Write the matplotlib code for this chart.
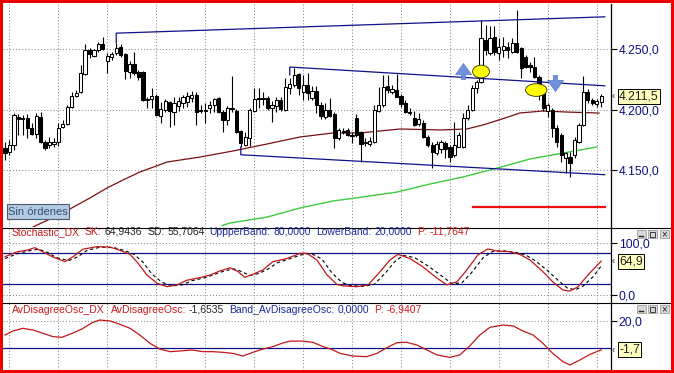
import numpy as np
import matplotlib
matplotlib.use("Agg")
import matplotlib.pyplot as plt
from matplotlib.patches import Ellipse, Rectangle
from matplotlib.path import Path
from matplotlib.lines import Line2D

plt.rcParams['font.family'] = ['Liberation Sans', 'DejaVu Sans']

# ---------------- datos (velas) ----------------
opens = [4168.5, 4165.5, 4171.0, 4194.0, 4193.5, 4193.5, 4185.0, 4180.0, 4194.0, 4173.5,
         4171.0, 4172.0, 4173.5, 4186.0, 4188.5, 4202.5, 4211.5, 4215.0, 4229.5, 4249.5,
         4244.5, 4249.5, 4254.5, 4240.5, 4244.0, 4247.0, 4252.0, 4246.5, 4231.5, 4238.0,
         4231.5, 4231.5, 4209.0, 4209.0, 4211.5, 4195.0, 4200.0, 4206.5, 4198.5, 4203.5,
         4206.0, 4206.5, 4210.0, 4212.5, 4200.0, 4200.0, 4201.5, 4204.0, 4210.0, 4198.5,
         4192.0, 4201.5, 4199.0, 4182.5, 4171.0, 4177.0, 4199.0, 4210.0, 4210.0, 4210.0,
         4201.5, 4203.5, 4208.5, 4200.0, 4218.0, 4220.5, 4229.5, 4215.0, 4220.5, 4210.0,
         4215.5, 4204.0, 4194.0, 4200.0, 4196.5, 4177.0, 4182.5, 4183.5, 4179.5, 4193.5,
         4182.0, 4173.5, 4172.0, 4173.5, 4199.0, 4204.0, 4220.0, 4215.0, 4216.5, 4211.5,
         4206.0, 4198.5, 4193.5, 4188.5, 4189.5, 4177.5, 4171.0, 4164.5, 4167.5, 4172.5,
         4169.5, 4163.0, 4169.5, 4169.5, 4193.5, 4200.0, 4218.0, 4223.0, 4258.0, 4247.0,
         4260.5, 4247.0, 4249.5, 4252.0, 4248.0, 4255.5, 4251.0, 4244.0, 4237.0, 4235.5,
         4227.5, 4214.0, 4199.0, 4200.0, 4185.0, 4179.5, 4160.5, 4161.0, 4163.0, 4173.5,
         4187.5, 4215.0, 4208.5, 4205.0, 4206.5]
highs = [4173.5, 4175.0, 4197.5, 4196.5, 4196.0, 4196.5, 4189.5, 4197.5, 4198.5, 4175.0,
         4177.5, 4177.0, 4189.5, 4192.0, 4204.0, 4215.0, 4216.5, 4237.0, 4254.5, 4251.0,
         4250.5, 4256.0, 4260.5, 4247.0, 4248.0, 4255.5, 4254.5, 4247.0, 4240.5, 4248.0,
         4233.0, 4232.0, 4211.0, 4218.0, 4213.0, 4206.5, 4209.0, 4207.5, 4211.0, 4211.0,
         4212.5, 4215.0, 4215.5, 4215.0, 4204.0, 4206.0, 4207.5, 4210.0, 4211.0, 4200.0,
         4203.5, 4228.0, 4201.0, 4183.5, 4182.0, 4201.5, 4218.0, 4218.0, 4215.0, 4211.5,
         4207.5, 4211.0, 4211.0, 4226.5, 4226.5, 4234.5, 4230.5, 4229.0, 4230.5, 4220.0,
         4220.0, 4206.5, 4206.0, 4210.0, 4198.5, 4185.0, 4185.0, 4185.0, 4182.0, 4196.5,
         4182.5, 4177.0, 4177.5, 4204.0, 4219.0, 4229.0, 4229.0, 4220.5, 4229.5, 4213.0,
         4208.5, 4201.5, 4199.0, 4197.5, 4192.0, 4179.5, 4173.5, 4174.5, 4175.0, 4174.5,
         4171.0, 4190.0, 4182.0, 4197.5, 4204.0, 4220.5, 4225.0, 4274.5, 4270.0, 4269.5,
         4269.5, 4259.5, 4260.5, 4256.0, 4259.5, 4282.5, 4252.0, 4245.5, 4239.5, 4244.0,
         4229.0, 4215.0, 4206.0, 4201.5, 4187.5, 4181.0, 4165.5, 4165.5, 4177.5, 4189.5,
         4228.0, 4217.5, 4210.0, 4209.0, 4213.0]
lows = [4158.5, 4163.0, 4167.0, 4179.5, 4179.5, 4177.0, 4179.5, 4177.0, 4172.5, 4167.0,
        4168.5, 4169.5, 4170.0, 4185.0, 4187.5, 4201.5, 4211.0, 4214.0, 4229.0, 4243.0,
        4244.0, 4248.0, 4249.5, 4230.5, 4241.5, 4245.5, 4244.0, 4225.5, 4226.5, 4229.0,
        4225.0, 4207.5, 4201.5, 4201.5, 4195.0, 4189.5, 4198.5, 4186.0, 4187.5, 4199.0,
        4201.5, 4202.5, 4206.5, 4187.5, 4197.5, 4189.5, 4197.5, 4198.5, 4197.5, 4182.0,
        4187.5, 4198.5, 4181.0, 4169.5, 4170.0, 4170.0, 4198.5, 4201.5, 4204.0, 4200.0,
        4190.0, 4198.5, 4199.0, 4199.0, 4213.0, 4219.0, 4212.5, 4208.5, 4208.5, 4208.5,
        4197.5, 4192.5, 4192.5, 4194.0, 4168.5, 4175.0, 4180.0, 4178.5, 4172.5, 4177.5,
        4157.0, 4170.0, 4170.0, 4172.5, 4198.5, 4202.5, 4214.0, 4213.0, 4211.0, 4202.5,
        4197.5, 4196.0, 4187.0, 4187.0, 4177.0, 4169.5, 4152.0, 4163.0, 4164.5, 4160.5,
        4157.0, 4161.0, 4169.5, 4168.5, 4192.0, 4199.0, 4214.0, 4222.5, 4245.5, 4245.5,
        4245.5, 4241.5, 4244.0, 4243.0, 4247.0, 4247.0, 4226.5, 4234.5, 4231.5, 4226.5,
        4208.5, 4199.0, 4194.0, 4177.5, 4169.5, 4157.0, 4148.0, 4144.5, 4160.5, 4172.5,
        4187.0, 4206.0, 4204.0, 4202.5, 4202.5]
closes = [4164.5, 4171.0, 4196.0, 4192.5, 4192.5, 4185.0, 4180.0, 4195.0, 4173.5, 4168.5,
          4173.5, 4173.5, 4185.0, 4188.5, 4202.5, 4211.5, 4214.0, 4230.5, 4249.5, 4246.5,
          4249.5, 4254.5, 4250.5, 4244.5, 4246.5, 4251.0, 4245.5, 4232.0, 4238.0, 4230.5,
          4227.5, 4208.5, 4208.5, 4211.5, 4196.0, 4201.0, 4207.5, 4199.0, 4206.0, 4207.5,
          4211.0, 4211.5, 4212.5, 4198.5, 4199.0, 4199.0, 4204.0, 4209.0, 4198.5, 4192.0,
          4201.5, 4201.0, 4182.0, 4172.5, 4177.5, 4200.0, 4209.0, 4209.0, 4209.0, 4201.5,
          4204.0, 4208.5, 4201.0, 4219.0, 4221.5, 4229.0, 4218.0, 4220.5, 4214.0, 4215.5,
          4204.0, 4195.0, 4200.0, 4195.0, 4177.0, 4183.5, 4182.0, 4179.5, 4178.5, 4179.5,
          4172.0, 4172.5, 4174.5, 4200.0, 4204.0, 4219.0, 4216.5, 4217.5, 4211.0, 4205.0,
          4198.5, 4197.5, 4187.5, 4192.5, 4177.5, 4171.0, 4165.5, 4172.0, 4173.5, 4167.5,
          4161.0, 4171.0, 4179.5, 4193.5, 4200.0, 4218.0, 4223.0, 4259.5, 4249.5, 4259.5,
          4248.0, 4252.0, 4253.0, 4249.5, 4255.5, 4248.0, 4234.5, 4235.5, 4235.5, 4227.5,
          4212.5, 4201.5, 4204.0, 4185.0, 4173.5, 4163.0, 4164.5, 4156.0, 4175.0, 4187.5,
          4215.0, 4208.5, 4206.0, 4207.5, 4211.5]

# medias moviles (barra, precio)
ma_brown_bars = [5.6, 6.3, 10.1, 14.6, 19.1, 22.9, 27.0, 30.3, 36.4, 43.8, 51.2, 58.9,
                 66.3, 73.7, 79.8, 88.8, 97.8, 103.8, 107.4, 112.4, 115.7, 120.9, 126.3, 133.5]
ma_brown_vals = [4101.6, 4103.3, 4109.9, 4118.2, 4127.3, 4135.5, 4143.0, 4148.7, 4157.0,
                 4161.1, 4166.1, 4171.9, 4177.7, 4181.0, 4181.0, 4184.3, 4183.5, 4184.3,
                 4187.6, 4193.4, 4197.5, 4199.2, 4198.3, 4197.5]
ma_green_bars = [48.8, 50.6, 58.9, 66.3, 73.7, 80.4, 88.1, 95.5, 102.9, 110.6, 118.0, 125.4, 133.0]
ma_green_vals = [4104.5, 4106.6, 4111.5, 4119.0, 4124.8, 4128.1, 4132.2, 4138.8, 4144.6,
                 4152.0, 4159.5, 4164.4, 4169.4]

# canales (barra, precio)
chan_top_bars = [25, 25, 134.8]
chan_top_vals = [4255.5, 4263.5, 4277.0]
chan_mid_up_bars = [64, 64, 134.8]
chan_mid_up_vals = [4229.0, 4235.5, 4220.0]
chan_mid_lo_bars = [53, 53, 134.8]
chan_mid_lo_vals = [4169.5, 4163.0, 4146.5]
target_bars = [105.2, 134.8]
target_vals = [4120.0, 4120.0]

# senales
buy_arrow = (102.9, 4232.6)
sell_arrow = (123.7, 4221.9)
entry_bars = [107.0, 119.4]
entry_vals = [4231.8, 4216.5]

# Stochastic_DX
sk_bars = [0, 2.7, 4.9, 6.7, 8.5, 10.6, 13.5, 15.3, 17.5, 20.7, 23.6, 25.8, 28.1, 29.9,
           31.9, 34.2, 36.4, 38.7, 40.9, 43.8, 46.1, 48.3, 50.6, 52.4, 53.9, 55.7, 58.0,
           60.2, 63.4, 66.3, 67.9, 70.1, 72.4, 74.6, 76.0, 79.1, 81.6, 84.3, 86.5, 88.3,
           91.0, 93.9, 97.1, 99.3, 101.6, 103.8, 106.3, 108.5, 110.6, 113.5, 115.7, 118.0,
           120.9, 123.1, 125.4, 127.0, 128.8, 131.0, 134.0]
sk_vals = [73.5, 83, 86, 91, 83, 73.5, 64, 73.5, 88, 93, 92, 86, 78, 61, 38, 22, 15.5, 19,
           28, 33, 38, 46, 52, 44.5, 33.6, 39.5, 48, 64, 70, 80, 80, 67, 38, 20, 17, 15.5,
           19, 44.5, 67, 78, 70, 54, 32, 19, 25, 48, 77, 88.5, 84.5, 83, 78, 67, 44.5, 25,
           9, 7, 15.5, 38, 64.9436]
sd_bars = [0, 3, 5.5, 7.5, 9.5, 11.5, 14.3, 16.3, 18.5, 21.5, 24.5, 27, 29, 31, 33, 35.3,
           37.5, 39.8, 42, 45, 47, 49.3, 51.5, 53.4, 55, 57, 59, 61.3, 64.5, 67.3, 69, 71.2,
           73.5, 75.7, 77.5, 80.5, 83, 85.5, 87.6, 89.5, 92, 95, 98.2, 100.5, 102.7, 105,
           107.5, 109.7, 112, 114.7, 117, 119.3, 122, 124.3, 126.5, 128.3, 130, 132.3, 134]
sd_vals = [70, 80, 85, 88, 82, 72, 66, 73, 86, 92, 91, 85, 78, 63, 40, 24, 17, 19, 27, 33,
           39, 46, 50, 44, 37, 41, 49, 62, 71, 79, 79, 69, 42, 24, 18, 16, 20, 42, 64, 76,
           72, 56, 36, 21, 23, 44, 72, 84, 85, 82, 77, 65, 46, 28, 12, 10, 17, 36, 55.7064]
stoch_bands = [80, 20]

# AvDisagreeOsc_DX
osc_bars = [0, 1.8, 4.0, 6.3, 8.5, 10.8, 12.8, 15.1, 17.3, 19.6, 21.3, 23.6, 25.8, 28.1,
            30.3, 32.6, 34.8, 37.1, 39.3, 42.0, 44.5, 46.7, 49.0, 51.2, 53.5, 55.7, 58.0,
            60.2, 62.2, 64.0, 67.0, 69.2, 71.5, 73.7, 75.3, 78.2, 81.3, 83.6, 85.8, 88.1,
            90.3, 92.6, 94.8, 97.1, 100.0, 102.2, 104.5, 106.7, 109.0, 111.9, 114.2, 116.4,
            118.7, 120.9, 123.1, 125.4, 127.0, 129.2, 131.5, 134.0]
osc_vals = [9.6, 12.7, 14.7, 13.4, 10.9, 8.4, 7.9, 10.9, 14.2, 19.0, 21.0, 20.3, 17.8,
            14.7, 9.6, 3.3, -1.0, -3.0, -2.5, -1.7, -3.0, -3.0, -3.5, -4.3, -6.3, -3.5,
            -1.0, 0.8, 3.3, 5.0, 5.0, 4.1, 0.8, -1.7, -4.3, -6.3, -6.8, -4.3, 0.0, 3.8, 4.1,
            2.0, -1.7, -5.5, -7.3, -5.5, 1.5, 9.6, 15.5, 17.2, 16.5, 12.7, 9.6, 3.3, -4.3,
            -10.6, -13.1, -9.3, -5.0, -1.6535]
osc_band = 0.0

grid_bars = np.arange(1, 136, 11)

# ---------------- figura ----------------
W, H = 674, 373
fig = plt.figure(figsize=(W / 100, H / 100), dpi=100, facecolor='white')


def box(x0, y0, x1, y1):
    return [x0 / W, 1 - y1 / H, (x1 - x0) / W, (y1 - y0) / H]


def fmt(v):
    s = f"{v:,.1f}"
    return s.replace(',', 'X').replace('.', ',').replace('X', '.')


NAVY = '#101080'
RED = '#cc1a1a'
BLUE = '#1a2a9c'
DOT = (0, (1, 2))

ax = fig.add_axes(box(3, 4, 611, 227))
ax_st = fig.add_axes(box(3, 228, 611, 302))
ax_os = fig.add_axes(box(3, 303, 611, 370))

for a in (ax, ax_st, ax_os):
    a.set_xlim(-0.45, 136.2)
    for s in ('left', 'top', 'bottom'):
        a.spines[s].set_visible(False)
    a.spines['right'].set_linewidth(0.9)
    a.yaxis.tick_right()
    a.set_xticks(grid_bars)
    a.tick_params(axis='x', length=0, labelbottom=False)
    a.tick_params(axis='y', length=4, width=0.8, pad=1.5, labelsize=8.7, labelcolor=NAVY)
    a.grid(True, color='#8a8a8a', linewidth=0.75, linestyle=DOT)
    a.set_axisbelow(True)


def value_tag(a, v):
    a.annotate(fmt(v), xy=(1, v), xycoords=('axes fraction', 'data'),
               xytext=(8, 0), textcoords='offset pixels', ha='left', va='center',
               fontsize=8.7, color='#202020', annotation_clip=False,
               bbox=dict(boxstyle='square,pad=0.12', fc='#ffffc0', ec='black', lw=0.7))
    a.annotate('‹', xy=(1, v), xycoords=('axes fraction', 'data'), xytext=(1, 0),
               textcoords='offset pixels', ha='left', va='center', fontsize=7,
               color='#303030', annotation_clip=False)


# ---- panel de precios ----
ax.set_ylim(4103.3, 4287.6)
yt = [4150, 4200, 4250]
ax.set_yticks(yt)
ax.set_yticklabels([fmt(v) for v in yt])

bars = np.arange(len(opens))
o = np.array(opens); c = np.array(closes)
ax.vlines(bars, lows, highs, color='black', linewidth=0.8, zorder=3)
up = c >= o
body_lo = np.minimum(o, c)
body_h = np.maximum(np.abs(c - o), 0.3)
ax.bar(bars[up], body_h[up], bottom=body_lo[up], width=0.72, color='white',
       edgecolor='black', linewidth=0.75, zorder=4)
ax.bar(bars[~up], body_h[~up], bottom=body_lo[~up], width=0.72, color='black',
       edgecolor='black', linewidth=0.75, zorder=4)

ax.plot(ma_brown_bars, ma_brown_vals, color='#7a1010', linewidth=0.9, zorder=2)
ax.plot(ma_green_bars, ma_green_vals, color='#3ccc3c', linewidth=1.0, zorder=2)
for bx, vy in ((chan_top_bars, chan_top_vals), (chan_mid_up_bars, chan_mid_up_vals),
               (chan_mid_lo_bars, chan_mid_lo_vals)):
    ax.plot(bx, vy, color='#10108a', linewidth=0.9, zorder=5)
ax.plot(target_bars, target_vals, color='#ee1111', linewidth=1.6, zorder=5)

up_arrow = Path([(0, 0.5), (0.5, -0.2), (0.13, -0.2), (0.13, -0.5), (-0.13, -0.5),
                 (-0.13, -0.2), (-0.5, -0.2), (0, 0.5)])
dn_arrow = Path([(x, -y) for x, y in up_arrow.vertices])
ax.plot([buy_arrow[0]], [buy_arrow[1]], marker=up_arrow, markersize=11.5,
        color='#6f92dc', markeredgecolor='#5878c8', markeredgewidth=0.5, zorder=6)
ax.plot([sell_arrow[0]], [sell_arrow[1]], marker=dn_arrow, markersize=11.5,
        color='#6f92dc', markeredgecolor='#5878c8', markeredgewidth=0.5, zorder=6)
for bx, vy, w in zip(entry_bars, entry_vals, [3.8, 4.8]):
    ax.add_patch(Ellipse((bx, vy), width=w, height=10.5, facecolor='#ffff00',
                         edgecolor='#303000', linewidth=0.6, zorder=7))

value_tag(ax, closes[-1])

# ---- Stochastic ----
ax_st.set_ylim(-14.1, 129.0)
ax_st.set_yticks([0, 100])
ax_st.set_yticklabels([fmt(0), fmt(100)])
for b in stoch_bands:
    ax_st.axhline(b, color='#10108a', linewidth=0.9, zorder=2)
ax_st.plot(sd_bars, sd_vals, color='black', linewidth=0.8, linestyle=(0, (3, 2.5)), zorder=3)
ax_st.plot(sk_bars, sk_vals, color='#c01818', linewidth=0.9, zorder=4)
value_tag(ax_st, sk_vals[-1])

# ---- AvDisagreeOsc ----
ax_os.set_ylim(-16.9, 33.9)
ax_os.set_yticks([20])
ax_os.set_yticklabels([fmt(20)])
ax_os.axhline(osc_band, color='#10108a', linewidth=0.9, zorder=2)
ax_os.plot(osc_bars, osc_vals, color='#c01818', linewidth=0.9, zorder=4)
value_tag(ax_os, osc_vals[-1])

# ---- cabeceras de los paneles ----
renderer = fig.canvas.get_renderer()


def header(ypix, parts):
    x = 12
    for txt, col, gap in parts:
        t = fig.text(x / W, 1 - ypix / H, txt, color=col, fontsize=7.5, ha='left', va='center')
        x = t.get_window_extent(renderer).x1 + gap


header(232, [("Stochastic_DX", RED, 5), ("SK:", RED, 3), ("64,9436", '#222222', 5),
             ("SD:", '#222222', 3), ("55,7064", '#222222', 5), ("UppperBand:", BLUE, 3),
             ("80,0000", BLUE, 5), ("LowerBand:", BLUE, 3), ("20,0000", BLUE, 5),
             ("P:", RED, 3), ("-11,7647", RED, 0)])
header(310, [("AvDisagreeOsc_DX", RED, 6), ("AvDisagreeOsc:", RED, 3), ("-1,6535", '#222222', 5),
             ("Band_AvDisagreeOsc:", BLUE, 3), ("0,0000", BLUE, 5), ("P:", RED, 3),
             ("-6,9407", RED, 0)])

# botones de ventana
for ytop in (230, 305):
    for k, x0 in enumerate((637, 648, 660)):
        fig.add_artist(Rectangle((x0 / W, 1 - (ytop + 8) / H), 9 / W, 8 / H,
                                 transform=fig.transFigure, fc='#d8d8d8', ec='#909090', lw=0.5))
        cx, cy = (x0 + 4.5) / W, 1 - (ytop + 4) / H
        if k == 0:
            fig.add_artist(Line2D([(x0 + 2) / W, (x0 + 6) / W], [1 - (ytop + 6) / H] * 2,
                                  color='#222222', lw=1.0))
        elif k == 1:
            fig.add_artist(Rectangle(((x0 + 2) / W, 1 - (ytop + 6.5) / H), 5 / W, 5 / H,
                                     transform=fig.transFigure, fc='none', ec='#222222', lw=0.6))
        else:
            fig.text(cx, cy, '×', fontsize=7, ha='center', va='center', color='#222222')

# separadores de paneles
for yy in (227.5, 302.5):
    fig.add_artist(Line2D([3 / W, 671 / W], [1 - yy / H] * 2, color='black', lw=0.8))

# etiqueta "Sin órdenes"
fig.add_artist(Rectangle((7 / W, 1 - 219 / H), 62 / W, 15 / H, transform=fig.transFigure,
                         fc='#b6cae4', ec='#4a5a70', lw=0.8, zorder=10))
fig.text(38 / W, 1 - 211.5 / H, 'Sin órdenes', fontsize=8, color='#30506e',
         ha='center', va='center', zorder=11)

# borde rojo
for x0, y0, w, h in ((0, 0, 3, H), (671, 0, 3, H), (0, 0, W, 3), (0, 370, W, 3)):
    fig.add_artist(Rectangle((x0 / W, 1 - (y0 + h) / H), w / W, h / H,
                             transform=fig.transFigure, fc='#ee0000', ec='none', zorder=20))

fig.savefig('out.png', dpi=100)
